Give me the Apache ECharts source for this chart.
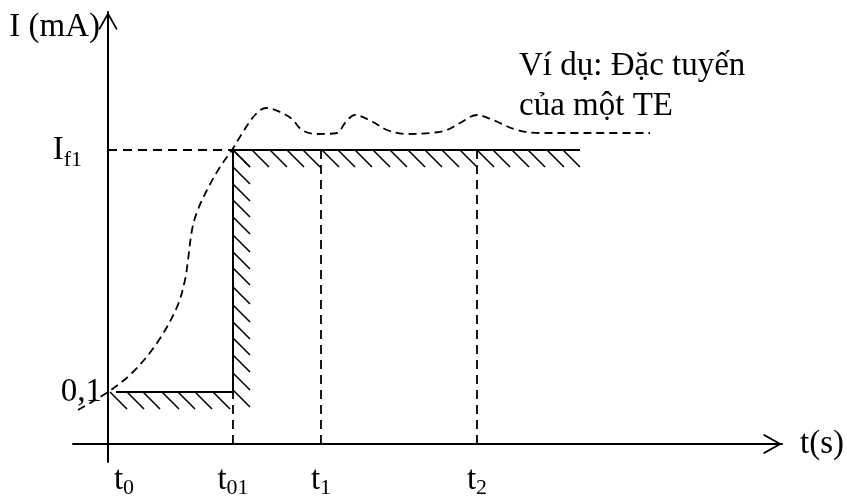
<!DOCTYPE html>
<html>
<head>
<meta charset="utf-8">
<script src="https://cdn.jsdelivr.net/npm/echarts@6/dist/echarts.min.js"></script>
<style>
  html, body { margin: 0; padding: 0; background: #fff; }
  #chart { width: 847px; height: 498px; }
</style>
</head>
<body>
<div id="chart"></div>
<script>
// dashed characteristic of a TE (axis units)
const curveX = [-30, 0, 24, 49, 69, 77, 80, 84, 89, 99, 112, 124, 135, 147, 158, 172, 184, 194, 209, 229, 237, 247, 265, 279, 299, 322, 339, 352, 369, 385, 409, 432, 465, 499, 542];
const curveY = [34, 52, 71, 101, 137, 164, 184, 214, 232, 254, 277, 294, 312, 329, 336, 332, 325, 314, 310, 311, 321, 329, 322, 314, 310, 311, 314, 321, 329, 324, 314, 311, 311, 311, 311];

// solid limit line (0,1 -> If1)
const stepX = [8, 125, 125, 472];
const stepY = [52, 52, 294, 294];

// tick positions and labels
const tickX = [0, 125, 213, 369];
const tickXLabels = ['{m0|t}{s|0}', '{m|t}{s|01}', '{m|t}{s|1}', '{m|t}{s|2}'];
const tickY = [52, 294];
const tickYLabels = ['{n|0,1}', '{m|I}{sr|f1}'];

// hatch marks along the limit line
const hatchTopX = [125, 144, 162, 179, 195, 214, 230, 247, 265, 282, 300, 317, 334, 352, 369, 385, 404, 420, 439, 455];
const hatchSideY = [294, 277, 260, 244, 227, 209, 192, 176, 157, 139, 122, 106, 89, 71, 54];
const hatchBottomX = [2, 19, 35, 54, 70, 87, 105];
const hatchLen = 17;

const font = '"Liberation Serif", "DejaVu Serif", serif';
const chevron = 'path://M0,17.6 L10,0 L20,17.6 L18.6,18.9 L10,3.6 L1.4,18.9 Z';

const chart = echarts.init(document.getElementById('chart'));

const hatchData = [];
hatchTopX.forEach(x => hatchData.push({ coords: [[x, 294], [x + hatchLen, 294 - hatchLen]] }));
hatchSideY.forEach(y => hatchData.push({ coords: [[125, y], [125 + hatchLen, y - hatchLen]] }));
hatchBottomX.forEach(x => hatchData.push({ coords: [[x, 52], [x + hatchLen, 52 - hatchLen]] }));

// dashed guide lines from the axes
const guideData = [
  { coords: [[0, stepY[2]], [tickX[1], stepY[2]]] },
  { coords: [[tickX[1], 0], [tickX[1], stepY[0]]] },
  { coords: [[tickX[2], 0], [tickX[2], stepY[2]]] },
  { coords: [[tickX[3], 0], [tickX[3], stepY[2]]] }
];

const option = {
  animation: false,
  title: {
    text: 'Ví dụ: Đặc tuyến\ncủa một TE',
    left: 514,
    top: 41,
    textStyle: { fontFamily: font, fontSize: 33, fontWeight: 'normal', color: '#000', lineHeight: 40 }
  },
  grid: { left: 73, right: 65, top: 12, bottom: 36, outerBoundsMode: 'none', containLabel: false },
  xAxis: {
    type: 'value',
    min: -35,
    max: 674,
    name: 't(s)',
    nameLocation: 'end',
    nameGap: 18,
    nameTextStyle: { fontFamily: font, fontSize: 33, color: '#000', align: 'left', verticalAlign: 'middle', padding: [0, 0, 6, 0] },
    splitLine: { show: false },
    axisTick: { show: false },
    axisLine: {
      onZero: true,
      lineStyle: { color: '#000', width: 2 },
      symbol: ['none', chevron],
      symbolSize: [20, 19],
      symbolOffset: [0, -9.5]
    },
    axisLabel: {
      customValues: tickX,
      margin: -1,
      formatter: (v) => tickXLabels[tickX.indexOf(v)],
      rich: {
        m: { fontFamily: font, fontSize: 33, color: '#000' },
        m0: { fontFamily: font, fontSize: 33, color: '#000', padding: [0, 0, 0, 32] },
        s: { fontFamily: font, fontSize: 22, color: '#000', padding: [16, 0, 0, 0] }
      }
    }
  },
  yAxis: {
    type: 'value',
    min: -18,
    max: 432,
    name: 'I (mA)',
    nameLocation: 'end',
    nameGap: -15,
    nameTextStyle: { fontFamily: font, fontSize: 33, color: '#000', align: 'right', verticalAlign: 'middle', padding: [0, 8, 0, 0] },
    splitLine: { show: false },
    axisTick: { show: false },
    axisLine: {
      onZero: true,
      lineStyle: { color: '#000', width: 2 },
      symbol: ['none', chevron],
      symbolSize: [20, 18],
      symbolOffset: [0, -9]
    },
    axisLabel: {
      customValues: tickY,
      margin: -29,
      formatter: (v) => tickYLabels[tickY.indexOf(v)],
      rich: {
        n: { fontFamily: font, fontSize: 33, color: '#000' },
        m: { fontFamily: font, fontSize: 33, color: '#000' },
        sr: { fontFamily: font, fontSize: 22, color: '#000', padding: [20, 20, 0, 0] }
      }
    }
  },
  series: [
    {
      type: 'line',
      data: curveX.map((x, i) => [x, curveY[i]]),
      smooth: 0.35,
      showSymbol: false,
      lineStyle: { color: '#000', width: 1.8, type: [8, 5] },
      silent: true
    },
    {
      type: 'line',
      data: stepX.map((x, i) => [x, stepY[i]]),
      showSymbol: false,
      lineStyle: { color: '#000', width: 2 },
      silent: true
    },
    {
      type: 'lines',
      coordinateSystem: 'cartesian2d',
      data: guideData,
      lineStyle: { color: '#000', width: 1.8, type: [9, 6], opacity: 1 },
      silent: true
    },
    {
      type: 'lines',
      coordinateSystem: 'cartesian2d',
      data: hatchData,
      lineStyle: { color: '#000', width: 1.6, opacity: 1 },
      silent: true
    }
  ]
};

chart.setOption(option);
</script>
</body>
</html>
